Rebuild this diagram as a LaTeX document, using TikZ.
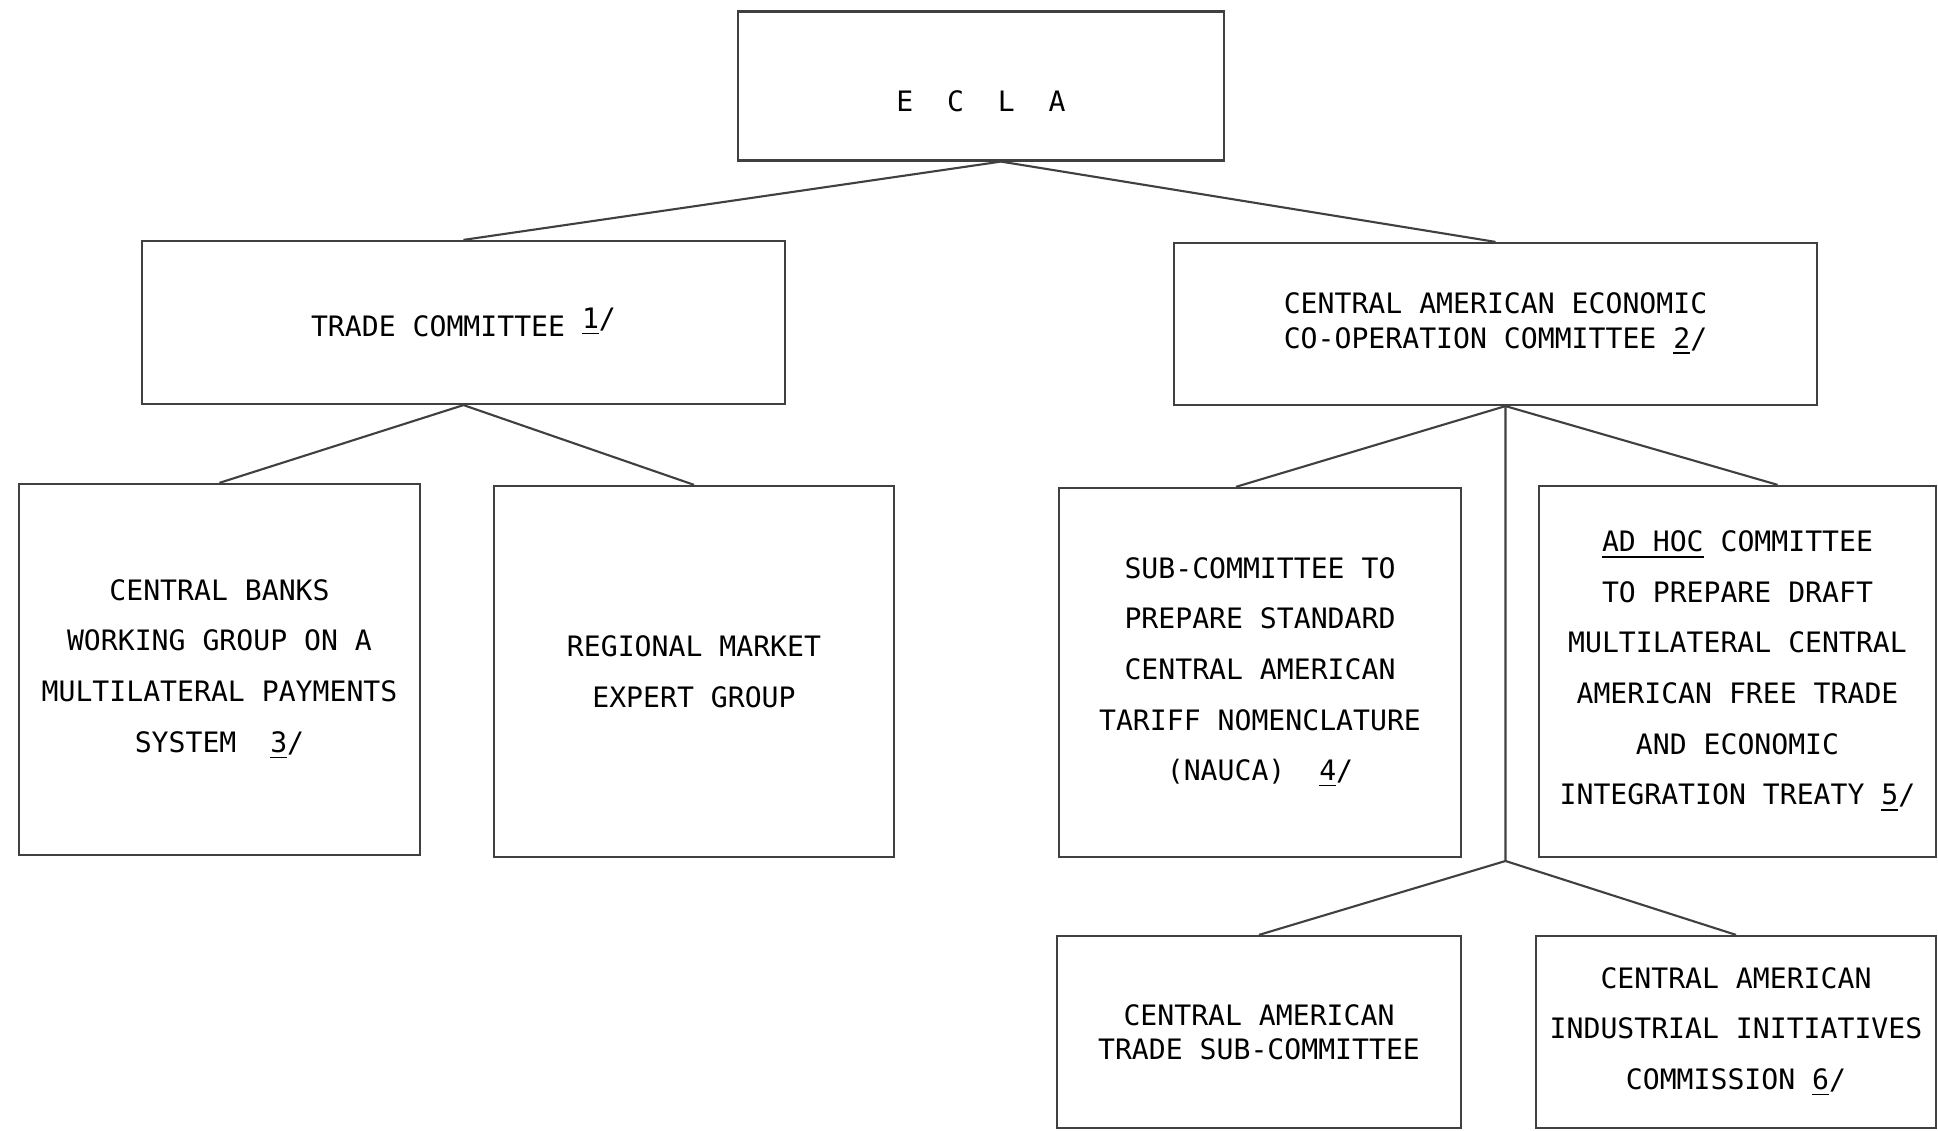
\documentclass[tikz,border=0pt]{standalone}
\usepackage{fontspec}
\setmainfont{DejaVu Sans Mono}

\begin{document}
\begin{tikzpicture}[x=0.01cm, y=-0.01cm]
        \useasboundingbox (0,0) rectangle (1938,1131);
        \begin{scope}[every node/.style = {rectangle, draw=black!75, line width=0.6pt,
                align=center, inner sep=0pt, font=\fontsize{8}{14.4}\selectfont}]
            \node[minimum width=4.86cm, minimum height=1.49cm, text height=14.4pt, text depth=0pt] (E) at (981, 86)   {E~~C~~L~~A};
            \node[minimum width=6.43cm, minimum height=1.63cm] (T) at (463.5, 322.5) {TRADE COMMITTEE~\raisebox{0.5ex}{\underline{1}/}};
            \node[minimum width=6.43cm, minimum height=1.62cm, font=\fontsize{8}{9.8}\selectfont] (C) at (1495.5, 324)
                {CENTRAL AMERICAN ECONOMIC\\CO-OPERATION COMMITTEE \underline{2}/};
            \node[minimum width=4.01cm, minimum height=3.71cm] (B) at (219.5, 669.5)
                {CENTRAL BANKS\\WORKING GROUP ON A\\MULTILATERAL PAYMENTS\\SYSTEM~~\underline{3}/};
            \node[minimum width=4.00cm, minimum height=3.71cm] (R) at (694, 671.5)
                {REGIONAL MARKET\\EXPERT GROUP};
            \node[minimum width=4.02cm, minimum height=3.69cm] (N) at (1260, 672.5)
                {SUB-COMMITTEE TO\\PREPARE STANDARD\\CENTRAL AMERICAN\\TARIFF NOMENCLATURE\\(NAUCA)~~\underline{4}/};
            \node[minimum width=3.97cm, minimum height=3.71cm] (H) at (1737.5, 671.5)
                {\underline{AD HOC} COMMITTEE\\TO PREPARE DRAFT\\MULTILATERAL CENTRAL\\AMERICAN FREE TRADE\\AND ECONOMIC\\INTEGRATION TREATY \underline{5}/};
            \node[minimum width=4.04cm, minimum height=1.92cm, font=\fontsize{8}{9.8}\selectfont] (S) at (1259, 1032)
                {CENTRAL AMERICAN\\TRADE SUB-COMMITTEE};
            \node[minimum width=4.00cm, minimum height=1.92cm] (I) at (1736, 1032)
                {CENTRAL AMERICAN\\INDUSTRIAL INITIATIVES\\COMMISSION \underline{6}/};
        \end{scope}

        \coordinate (J) at (1505.5, 861);

        \begin{scope}[every edge/.style={draw=black!75, line width=0.6pt}]
                \path ([xshift=2mm]E.south) edge (T.north);
                \path ([xshift=2mm]E.south) edge (C.north);
                \path (T.south) edge (B.north);
                \path (T.south) edge (R.north);
                \path ([xshift=1mm]C.south) edge ([xshift=-2.4mm]N.north);
                \path ([xshift=1mm]C.south) edge ([xshift=4mm]H.north);
                \path ([xshift=1mm]C.south) edge (J);
                \path (J) edge (S.north);
                \path (J) edge (I.north);
        \end{scope}
    \end{tikzpicture}
\end{document}
